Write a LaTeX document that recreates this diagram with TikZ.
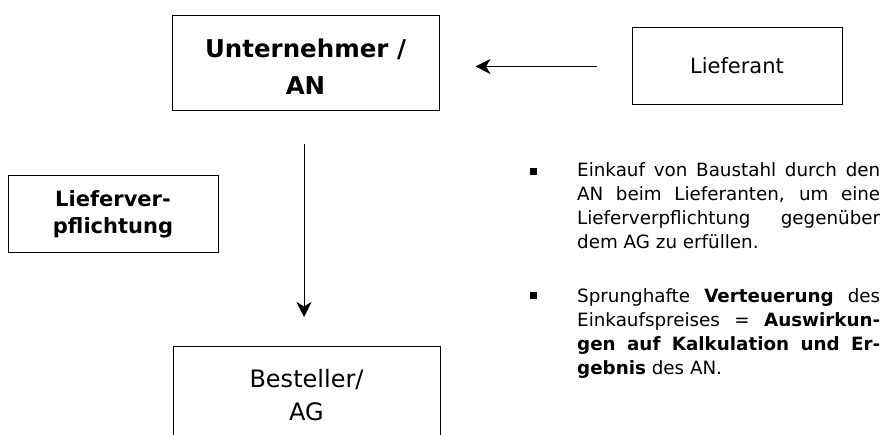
\documentclass[tikz,border=0pt]{standalone}
\usepackage{fontspec}
\setmainfont{DejaVu Sans}
\usetikzlibrary{arrows.meta}
\tikzset{
  box/.style={draw, line width=1pt, inner sep=0pt, align=center},
  conn/.style={line width=1pt, -{Stealth[length=15pt,width=15pt,inset=4.5pt]}},
  bullet/.style={fill=black, inner sep=0pt, minimum size=6.5pt},
  para/.style={anchor=base west, inner sep=0pt, text width=303pt, align=justify}
}
\begin{document}
\begin{tikzpicture}[x=1pt,y=-1pt]
\clip (0,0) rectangle (882,435);
\useasboundingbox (0,0) rectangle (882,435);
% boxes
\node[box, minimum width=267pt, minimum height=95pt] (an) at (305.5,63.5) {};
\node[anchor=base, font=\fontsize{24.5}{37}\selectfont\bfseries, align=center, inner sep=0pt] (antxt) at (305.5,95) {Unternehmer /\\AN};
\node[box, minimum width=210pt, minimum height=77pt] (lief) at (737,66.5) {};
\node[anchor=base, font=\fontsize{21}{25}\selectfont, inner sep=0pt] (lieftxt) at (737,74) {Lieferant};
\node[box, minimum width=210pt, minimum height=77pt] (lv) at (113,214.5) {};
\node[anchor=base, font=\fontsize{21}{27}\selectfont\bfseries, align=center, inner sep=0pt] (lvtxt) at (113,234) {Lieferver-\\pflichtung};
\node[box, minimum width=267pt, minimum height=130pt] (ag) at (306.5,411) {};
\node[anchor=base, font=\fontsize{24}{33}\selectfont, align=center, inner sep=0pt] (agtxt) at (306.5,420) {Besteller/\\AG};
% connectors
\draw[conn, shorten <=35pt, shorten >=36pt] (lief.west) -- (an.east |- lief.west);
\coordinate (vstart) at (304,144);
\coordinate (vend) at (304,317);
\draw[conn] (vstart) -- (vend);
% bullets
\node[bullet] (b1) at (533.5,171.5) {};
\node[bullet] (b2) at (533.5,295.5) {};
\node[para, font=\fontsize{18.3}{24}\selectfont] (p1) at (577,177) {Einkauf von Baustahl durch den\linebreak AN beim Lieferanten, um eine\linebreak Lieferverpflichtung gegenüber\linebreak dem AG zu erfüllen.};
\node[para, font=\fontsize{18.3}{24}\selectfont] (p2) at (577,302) {Sprunghafte \textbf{Verteuerung} des\linebreak Einkaufspreises = \textbf{Auswirkun-\linebreak gen auf Kalkulation und Er-\linebreak gebnis} des AN.};
\end{tikzpicture}
\end{document}
